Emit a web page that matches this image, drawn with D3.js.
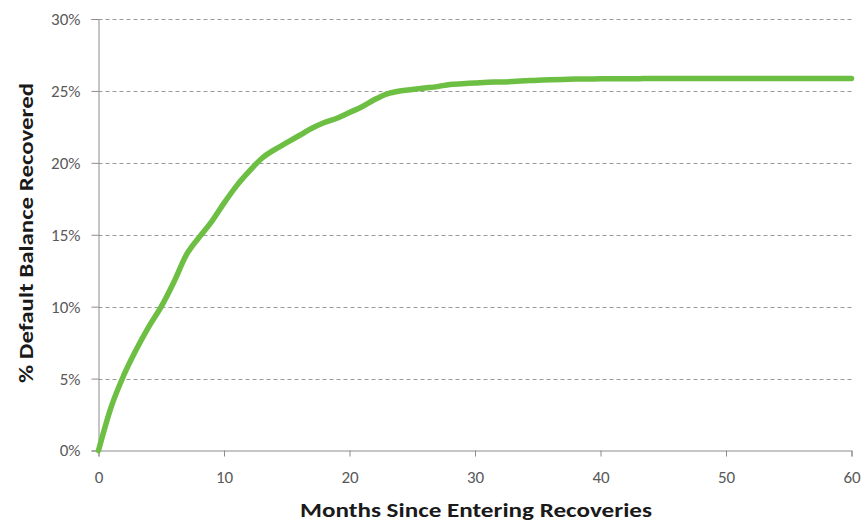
<!DOCTYPE html>
<html>
<head>
<meta charset="utf-8">
<script src="https://cdn.jsdelivr.net/npm/d3@7"></script>
<style>
  html, body { margin: 0; padding: 0; background: #fff; }
  svg { display: block; }
</style>
</head>
<body>
<svg id="chart" width="863" height="524"></svg>
<script>
// Data
const months = [0,1,2,3,4,5,6,7,8,9,10,11,12,13,14,15,16,17,18,19,20,21,22,23,24,25,26,27,28,29,30,31,32,33,34,35,36,37,38,39,40,41,42,43,44,45,46,47,48,49,50,51,52,53,54,55,56,57,58,59,60];
const recovered = [0,3.0,5.2,7.0,8.6,10.0,11.7,13.6,14.8,15.9,17.2,18.4,19.4,20.3,20.9,21.4,21.9,22.4,22.8,23.1,23.5,23.9,24.4,24.8,25.0,25.1,25.2,25.3,25.45,25.5,25.55,25.6,25.62,25.65,25.7,25.75,25.78,25.8,25.82,25.83,25.84,25.85,25.85,25.85,25.86,25.86,25.86,25.86,25.86,25.86,25.86,25.86,25.86,25.86,25.86,25.86,25.86,25.86,25.86,25.86,25.86];
const xTicks = [0,10,20,30,40,50,60];
const yTicks = [0,5,10,15,20,25,30];
const xTitle = "Months Since Entering Recoveries";
const yTitle = "% Default Balance Recovered";

const svg = d3.select("#chart");
const m = {left: 98.5, right: 851.5, top: 19, bottom: 450.5};
const x = d3.scaleLinear().domain([0,60]).range([m.left, m.right]);
const y = d3.scaleLinear().domain([0,30]).range([m.bottom, m.top]);
const font = "Calibri, Carlito, 'Open Sans', 'Noto Sans', sans-serif";

// Gridlines
svg.append("g").selectAll("line").data(yTicks.filter(d => d > 0)).join("line")
  .attr("x1", m.left).attr("x2", m.right)
  .attr("y1", d => Math.round(y(d)) + 0.5).attr("y2", d => Math.round(y(d)) + 0.5)
  .attr("stroke", "#9a9a9a").attr("stroke-width", 1).attr("stroke-dasharray", "4,3");

// Y axis
const yAxis = d3.axisLeft(y).tickValues(yTicks).tickSize(7).tickPadding(11).tickFormat(d => d + "%");
const gy = svg.append("g").attr("transform", `translate(${m.left},0)`).call(yAxis);
gy.select(".domain").attr("stroke", "#8c8c8c");
gy.selectAll(".tick line").attr("stroke", "#8c8c8c");
gy.selectAll("text").attr("font-family", font).attr("font-size", 17).attr("fill", "#595959");

// X axis
const xAxis = d3.axisBottom(x).tickValues(xTicks).tickSize(6).tickPadding(14);
const gx = svg.append("g").attr("transform", `translate(0,${m.bottom})`).call(xAxis);
gx.select(".domain").attr("stroke", "#8c8c8c");
gx.selectAll(".tick line").attr("stroke", "#8c8c8c");
gx.selectAll("text").attr("font-family", font).attr("font-size", 17).attr("fill", "#595959");

// Line
const line = d3.line().x((d, i) => x(months[i])).y(d => y(d)).curve(d3.curveMonotoneX);
svg.append("path").datum(recovered)
  .attr("d", line).attr("fill", "none")
  .attr("stroke", "#6cbf43").attr("stroke-width", 5.5).attr("stroke-linejoin", "round").attr("stroke-linecap", "round");

// Titles
svg.append("text").attr("x", 476).attr("y", 517)
  .attr("text-anchor", "middle").attr("font-family", font).attr("font-weight", "bold")
  .attr("font-size", 20).attr("fill", "#1a1a1a")
  .attr("textLength", 352).attr("lengthAdjust", "spacingAndGlyphs")
  .text(xTitle);

svg.append("text").attr("transform", "translate(33,233) rotate(-90)")
  .attr("text-anchor", "middle").attr("font-family", font).attr("font-weight", "bold")
  .attr("font-size", 20).attr("fill", "#1a1a1a")
  .attr("textLength", 300).attr("lengthAdjust", "spacingAndGlyphs")
  .text(yTitle);
</script>
</body>
</html>
